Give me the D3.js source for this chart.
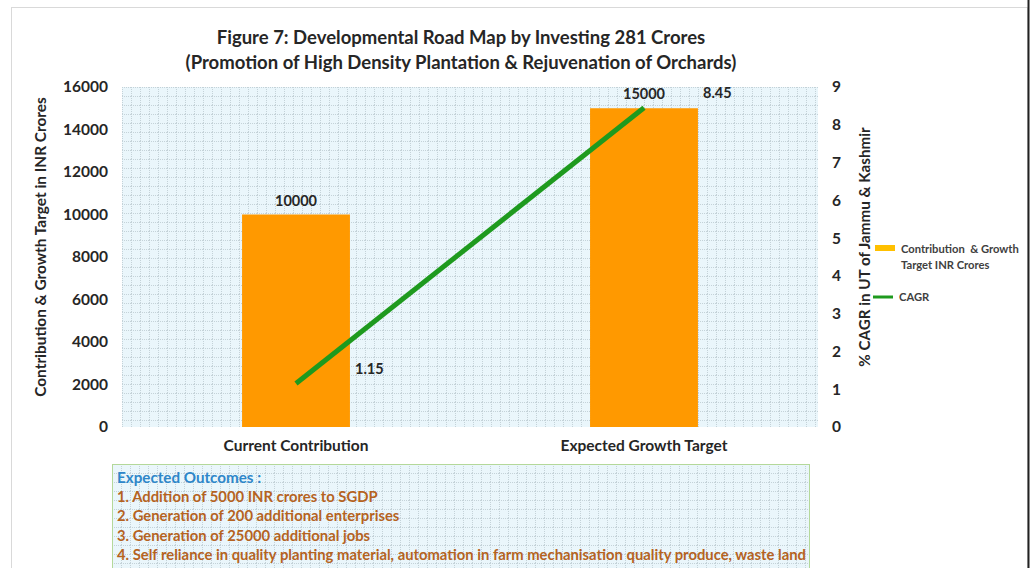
<!DOCTYPE html>
<html>
<head>
<meta charset="utf-8">
<script src="https://cdn.jsdelivr.net/npm/d3@7"></script>
<style>
  body { margin:0; background:#fff; }
  text { font-family: Lato, "Open Sans", sans-serif; font-weight:bold; }
</style>
</head>
<body>
<div id="chart"></div>
<script>
// --- data
const categories = ["Current Contribution", "Expected Growth Target"];
const contribution = [10000, 15000];
const cagr = [1.15, 8.45];
const leftTicks = [0, 2000, 4000, 6000, 8000, 10000, 12000, 14000, 16000];
const rightTicks = [0, 1, 2, 3, 4, 5, 6, 7, 8, 9];
const titleLines = ["Figure 7: Developmental Road Map by Investing 281 Crores",
                    "(Promotion of High Density Plantation & Rejuvenation of Orchards)"];
const outcomes = ["1. Addition of 5000 INR crores to SGDP",
                  "2. Generation of 200 additional enterprises",
                  "3. Generation of 25000 additional jobs",
                  "4. Self reliance in quality planting material, automation in farm mechanisation quality produce, waste land"];

const width = 1033, height = 568;
const margin = {left:122, right:215, top:87, bottom:141};

let svg = d3.select("#chart").append("svg")
    .attr("width", width)
    .attr("height", height);

// dotted grid pattern for the plot background
let defs = svg.append("defs");
let pat = defs.append("pattern")
    .attr("id", "dots")
    .attr("width", 9).attr("height", 9)
    .attr("patternUnits", "userSpaceOnUse");
pat.append("rect").attr("width", 9).attr("height", 9).attr("fill", "#eaf6fb");
pat.append("line").attr("x1", 0.5).attr("x2", 0.5).attr("y1", 0).attr("y2", 9)
    .attr("stroke", "#c4d2d8").attr("stroke-width", 1).attr("stroke-dasharray", "1,1");
pat.append("line").attr("x1", 0).attr("x2", 9).attr("y1", 0.5).attr("y2", 0.5)
    .attr("stroke", "#c4d2d8").attr("stroke-width", 1).attr("stroke-dasharray", "1,1");

// outer frame
svg.append("rect")
    .attr("x", 11.5).attr("y", 7.5)
    .attr("width", 1016).attr("height", 570)
    .attr("fill", "#fff").attr("stroke", "#d9d9d9");
svg.append("line")
    .attr("x1", 1028.5).attr("x2", 1028.5).attr("y1", 0).attr("y2", height)
    .attr("stroke", "#222").attr("stroke-width", 2);

// title
svg.selectAll(".title").data(titleLines).enter()
    .append("text")
    .attr("class", "title")
    .attr("x", 461)
    .attr("y", (d, i) => 44 + i * 24.5)
    .style("text-anchor", "middle")
    .style("font-size", 18.5)
    .style("fill", "#262626")
    .text(d => d);

let plotW = width - margin.left - margin.right;
let plotH = height - margin.top - margin.bottom;

let g = svg.append("g")
    .attr("transform", "translate(" + margin.left + "," + margin.top + ")");

let x = d3.scaleBand()
    .domain(categories)
    .range([0, plotW]);

let y = d3.scaleLinear().domain([0, 16000]).range([plotH, 0]);
let y2 = d3.scaleLinear().domain([0, 9]).range([plotH, 0]);

g.append("rect")
    .attr("width", plotW).attr("height", plotH)
    .attr("fill", "url(#dots)");

// bars
let barW = x.bandwidth() * 0.31;
g.selectAll(".bar").data(categories).enter()
    .append("rect")
    .attr("class", "bar")
    .attr("x", d => x(d) + x.bandwidth() / 2 - barW / 2)
    .attr("y", (d, i) => y(contribution[i]))
    .attr("width", barW)
    .attr("height", (d, i) => plotH - y(contribution[i]))
    .attr("fill", "#ff9900");

g.selectAll(".barlabel").data(categories).enter()
    .append("text")
    .attr("x", d => x(d) + x.bandwidth() / 2)
    .attr("y", (d, i) => y(contribution[i]) - 9)
    .style("text-anchor", "middle")
    .style("font-size", 14.5)
    .style("fill", "#262626")
    .text((d, i) => contribution[i]);

// CAGR line
let line = d3.line()
    .x(d => x(d.cat) + x.bandwidth() / 2)
    .y(d => y2(d.v));
let lineData = categories.map((c, i) => ({cat: c, v: cagr[i]}));
g.append("path")
    .datum(lineData)
    .attr("d", line)
    .attr("fill", "none")
    .attr("stroke", "#1e9a1e")
    .attr("stroke-width", 5);

g.selectAll(".cagrlabel").data(lineData).enter()
    .append("text")
    .attr("x", d => x(d.cat) + x.bandwidth() / 2 + 59)
    .attr("y", d => y2(d.v) - 10)
    .style("text-anchor", "start")
    .style("font-size", 14.5)
    .style("fill", "#262626")
    .text(d => d.v.toFixed(2));

function styleTicks(sel) {
  sel.select(".domain").remove();
  sel.selectAll("text")
    .style("font-size", 15.5)
    .style("font-family", "Lato, sans-serif")
    .style("font-weight", "bold")
    .attr("fill", "#262626");
}

// left axis
let yAxis = g.append("g")
    .call(d3.axisLeft(y).tickValues(leftTicks).tickSize(0).tickPadding(14).tickFormat(d3.format("d")));
styleTicks(yAxis);

// right axis
let y2Axis = g.append("g")
    .attr("transform", "translate(" + plotW + ",0)")
    .call(d3.axisRight(y2).tickValues(rightTicks).tickSize(0).tickPadding(14));
styleTicks(y2Axis);

// x axis
let xAxis = g.append("g")
    .attr("transform", "translate(0," + plotH + ")")
    .call(d3.axisBottom(x).tickSize(0).tickPadding(13));
styleTicks(xAxis);

// axis titles
svg.append("text")
    .attr("transform", "translate(46," + (margin.top + plotH / 2 - 10) + ") rotate(-90)")
    .style("text-anchor", "middle")
    .style("font-size", 15.4)
    .style("fill", "#262626")
    .text("Contribution & Growth Target in INR Crores");

svg.append("text")
    .attr("transform", "translate(870," + (margin.top + plotH / 2 - 10) + ") rotate(-90)")
    .style("text-anchor", "middle")
    .style("font-size", 15.2)
    .style("fill", "#262626")
    .text("% CAGR in UT of Jammu & Kashmir");

// legend
let legend = svg.append("g").attr("transform", "translate(875,248)");
legend.append("rect")
    .attr("x", 0).attr("y", -3).attr("width", 20).attr("height", 6)
    .attr("fill", "#ffc000");
legend.append("text").attr("x", 26).attr("y", 5)
    .style("font-size", 11.2).style("fill", "#404040")
    .style("white-space", "pre")
    .text("Contribution  & Growth");
legend.append("text").attr("x", 26).attr("y", 21)
    .style("font-size", 11.2).style("fill", "#404040")
    .text("Target INR Crores");
legend.append("line")
    .attr("x1", -2).attr("x2", 18).attr("y1", 49).attr("y2", 49)
    .attr("stroke", "#1e9a1e").attr("stroke-width", 3);
legend.append("text").attr("x", 24).attr("y", 53)
    .style("font-size", 11.2).style("fill", "#404040")
    .text("CAGR");

// outcomes box
let box = svg.append("g").attr("transform", "translate(112,464)");
box.append("rect")
    .attr("x", 0.5).attr("y", 0.5).attr("width", 697).attr("height", 110)
    .attr("fill", "url(#dots)")
    .attr("stroke", "#b4d89a");
box.append("text")
    .attr("x", 5).attr("y", 19)
    .style("font-size", 15.2)
    .style("fill", "#2e86c9")
    .text("Expected Outcomes :");
box.selectAll(".outcome").data(outcomes).enter()
    .append("text")
    .attr("class", "outcome")
    .attr("x", 5)
    .attr("y", (d, i) => 38 + i * 19.3)
    .style("font-size", 14.8)
    .style("fill", "#b5631f")
    .text(d => d);
</script>
</body>
</html>
